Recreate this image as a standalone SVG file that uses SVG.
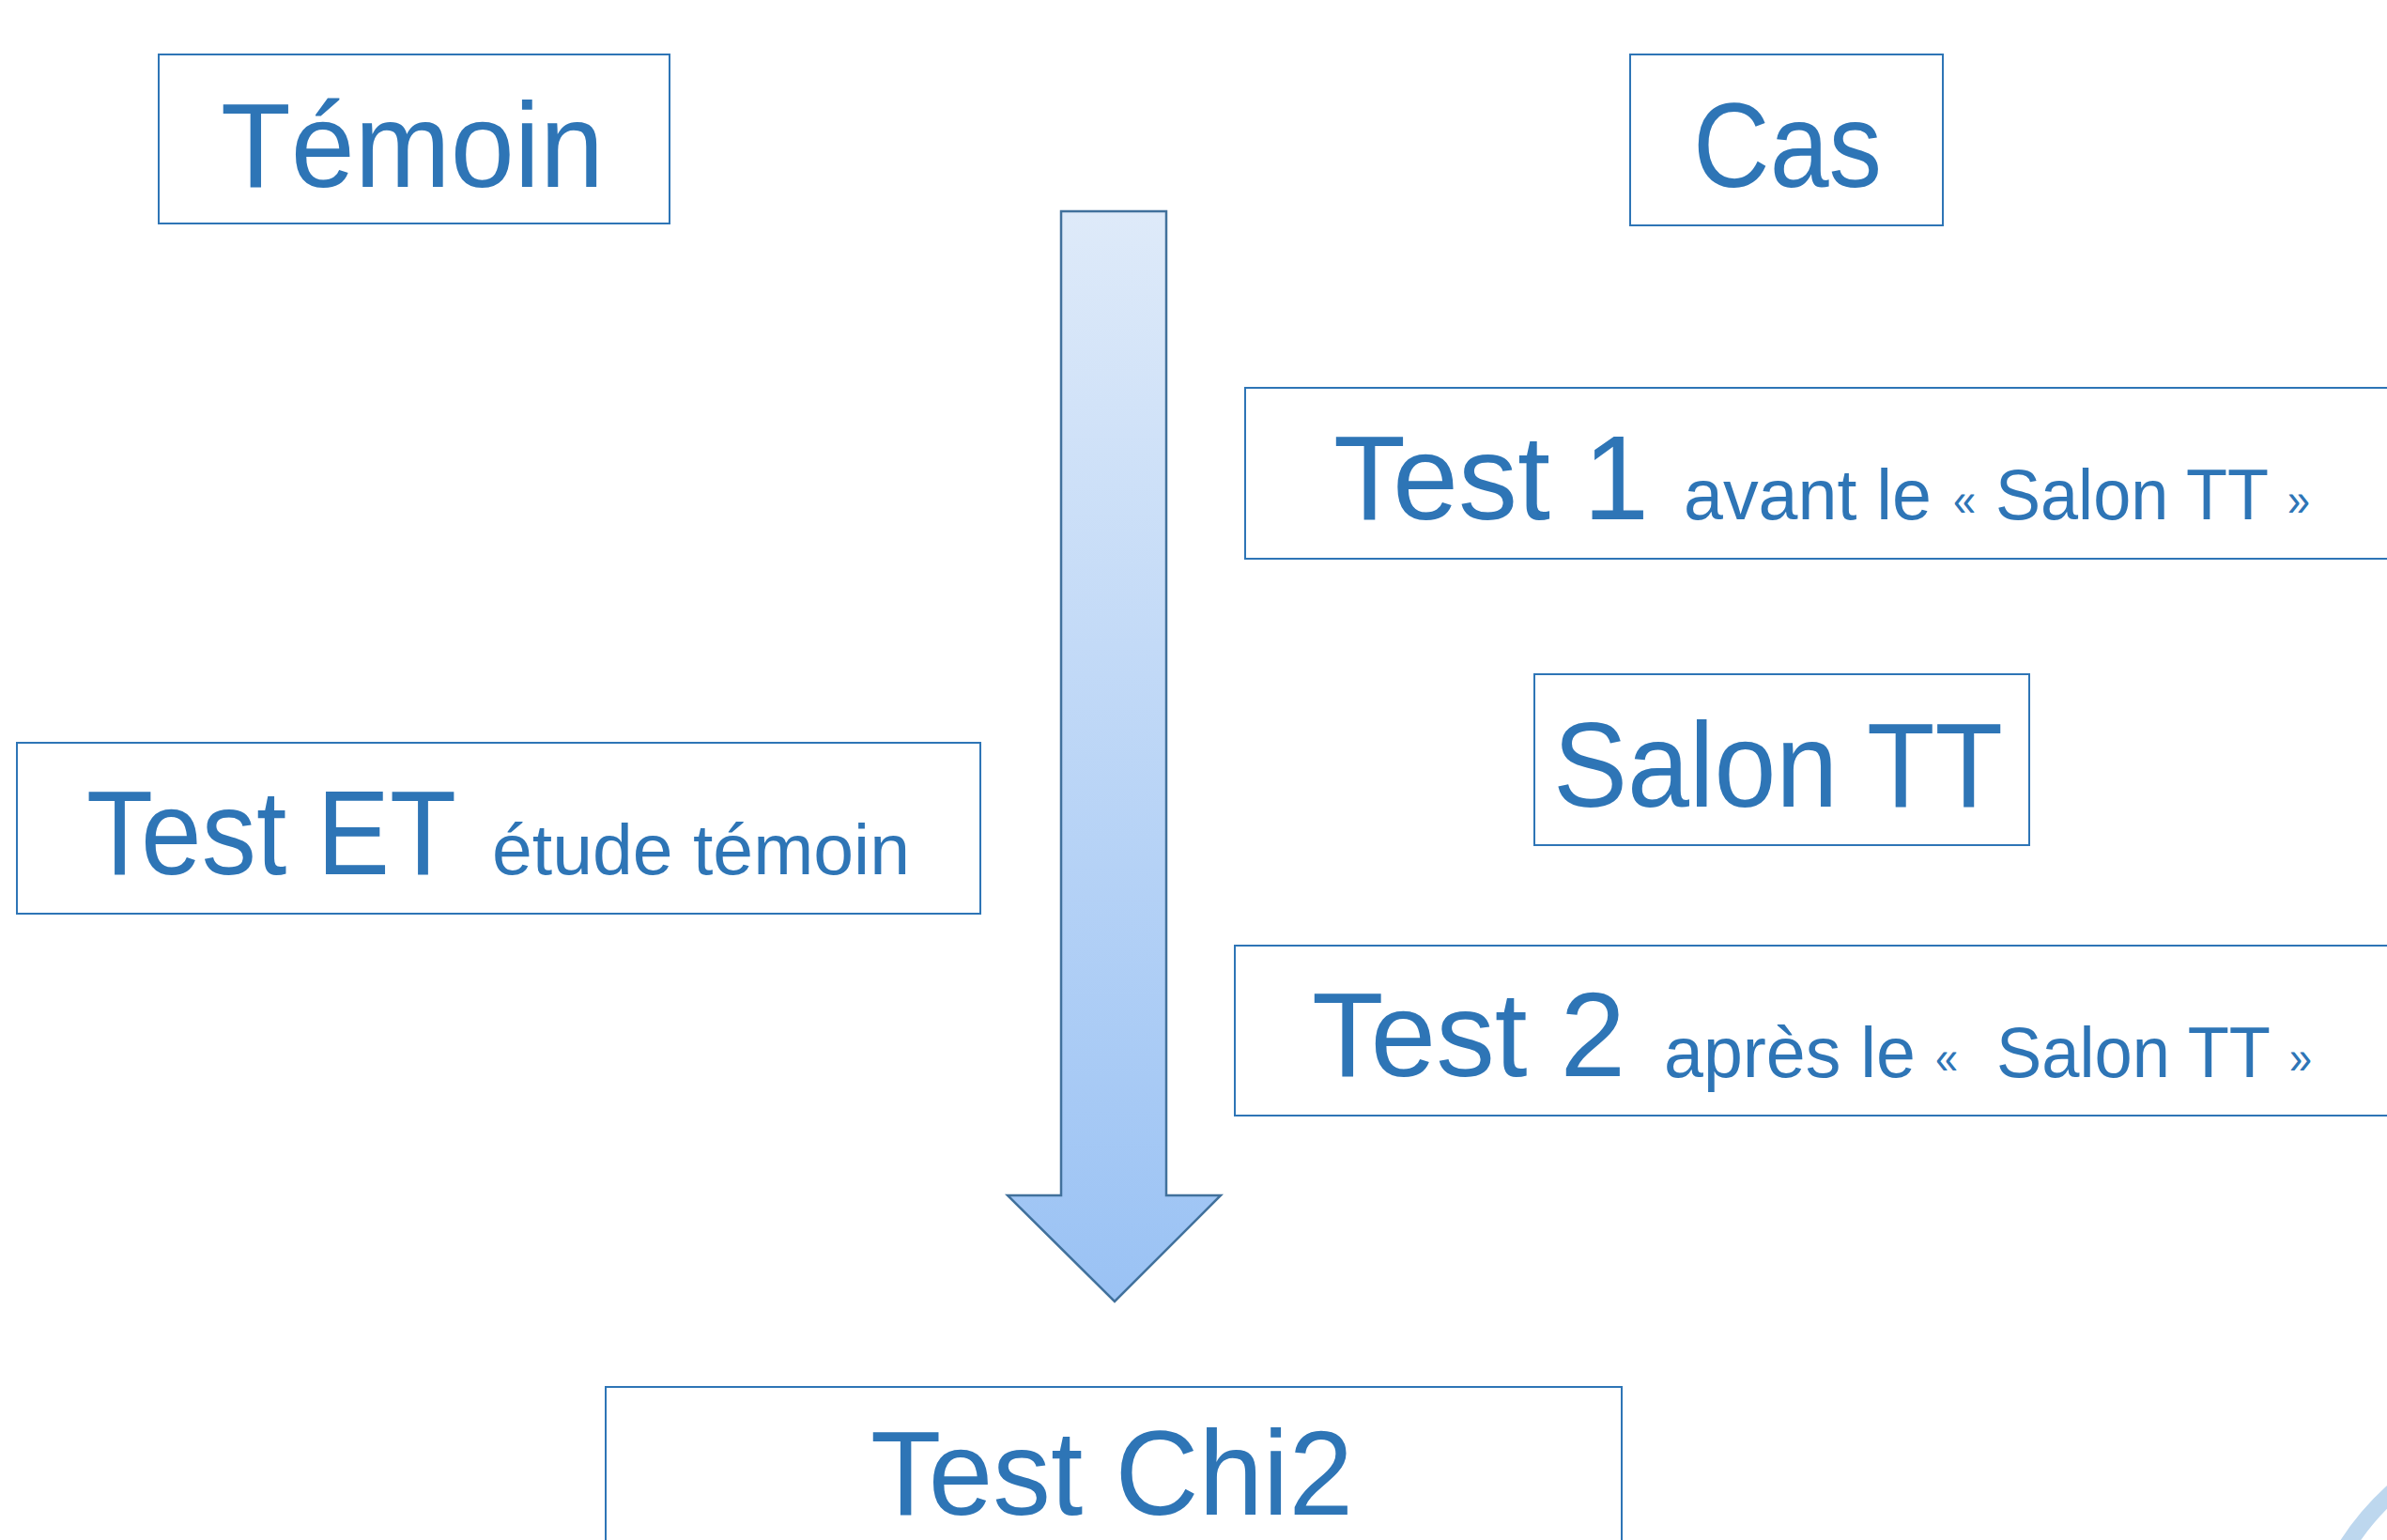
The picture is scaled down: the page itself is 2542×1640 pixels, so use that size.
<svg xmlns="http://www.w3.org/2000/svg" width="2542" height="1640" viewBox="0 0 2542 1640">
<defs>
<linearGradient id="ag" x1="0" y1="0" x2="0" y2="1">
<stop offset="0" stop-color="#DEEAF9"/>
<stop offset="1" stop-color="#9AC2F4"/>
</linearGradient>
<style>
.box{fill:#FFFFFF;stroke:#2E75B6;stroke-width:2}
.t{font-family:"Liberation Sans",Arial,sans-serif;fill:#2E75B6}
.big{font-size:128px}
.sm{font-size:76px}
.q{font-size:50px}
</style>
</defs>
<rect width="2542" height="1640" fill="#FFFFFF"/>
<g id="connectors">
<path d="M1130,225 L1242,225 L1242,1273 L1300,1273 L1187,1386 L1073,1273 L1130,1273 Z" fill="url(#ag)" stroke="#41719C" stroke-width="2.5"/>
</g>
<g id="temoin">
<rect class="box" x="169" y="58" width="544" height="180"/>
<text class="t big" x="235" y="199" textLength="408" lengthAdjust="spacingAndGlyphs">Témoin</text>
</g>
<g id="cas">
<rect class="box" x="1736" y="58" width="333" height="182"/>
<text class="t big" x="1803" y="199" textLength="201" lengthAdjust="spacingAndGlyphs">Cas</text>
</g>
<g id="test1">
<rect class="box" x="1326" y="413" width="1240" height="182"/>
<text class="t big" x="1420" y="553" textLength="336" lengthAdjust="spacingAndGlyphs">Test 1</text>
<text class="t sm" x="1793" y="553" textLength="264" lengthAdjust="spacingAndGlyphs">avant le</text>
<text class="t q" x="2080" y="549" textLength="24" lengthAdjust="spacingAndGlyphs">«</text>
<text class="t sm" x="2125" y="553" textLength="291" lengthAdjust="spacingAndGlyphs">Salon TT</text>
<text class="t q" x="2436" y="549" textLength="24" lengthAdjust="spacingAndGlyphs">»</text>
</g>
<g id="salon">
<rect class="box" x="1634" y="718" width="527" height="182"/>
<text class="t big" x="1654" y="859" textLength="479" lengthAdjust="spacingAndGlyphs">Salon TT</text>
</g>
<g id="testET">
<rect class="box" x="18" y="791" width="1026" height="182"/>
<text class="t big" x="92" y="931" textLength="394" lengthAdjust="spacingAndGlyphs">Test ET</text>
<text class="t sm" x="524" y="931" textLength="445" lengthAdjust="spacingAndGlyphs">étude témoin</text>
</g>
<g id="test2">
<rect class="box" x="1315" y="1007" width="1250" height="181"/>
<text class="t big" x="1397" y="1146" textLength="334" lengthAdjust="spacingAndGlyphs">Test 2</text>
<text class="t sm" x="1772" y="1147" textLength="268" lengthAdjust="spacingAndGlyphs">après le</text>
<text class="t q" x="2061" y="1143" textLength="24" lengthAdjust="spacingAndGlyphs">«</text>
<text class="t sm" x="2126" y="1147" textLength="292" lengthAdjust="spacingAndGlyphs">Salon TT</text>
<text class="t q" x="2438" y="1143" textLength="24" lengthAdjust="spacingAndGlyphs">»</text>
</g>
<g id="chi2">
<rect class="box" x="645" y="1477" width="1082" height="200"/>
<text class="t big" x="927" y="1613" textLength="514" lengthAdjust="spacingAndGlyphs">Test Chi2</text>
</g>
<path d="M2497,1650 Q2518,1615 2552,1585" fill="none" stroke="#BDD7EE" stroke-width="18"/>
</svg>
